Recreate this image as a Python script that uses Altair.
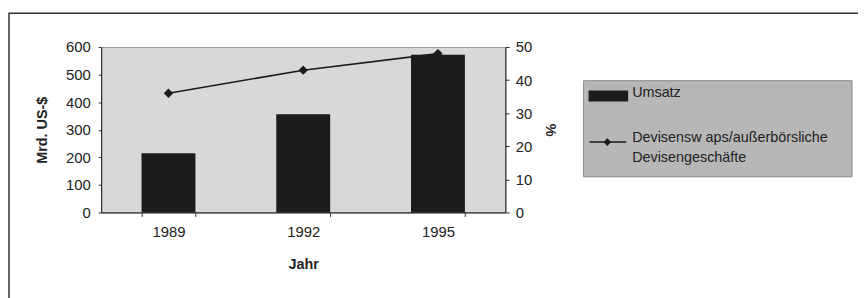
import altair as alt
import pandas as pd

# ---- data ----
years = ["1989", "1992", "1995"]
umsatz = [215, 356, 572]          # Mrd. US-$ (left axis)
swaps_pct = [36, 43, 48]          # % (right axis)
left_ticks = [0, 100, 200, 300, 400, 500, 600]
right_ticks = [0, 10, 20, 30, 40, 50]
legend_names = ["Umsatz", "Devisensw aps/außerbörsliche\nDevisengeschäfte"]

df = pd.DataFrame({"Jahr": years, "Umsatz": umsatz, "Prozent": swaps_pct})

FONT = "Liberation Sans"
W, H = 408, 167
DARK = "#1b1b1b"

x_enc = alt.X(
    "Jahr:N", sort=years, title="Jahr",
    scale=alt.Scale(paddingInner=0.6, paddingOuter=0.3),
    axis=alt.Axis(labelAngle=0, tickBand="extent", tickSize=4, labelPadding=8,
                  titlePadding=19),
)

bars = alt.Chart(df).mark_bar(color=DARK).encode(
    x=x_enc,
    y=alt.Y("Umsatz:Q", scale=alt.Scale(domain=[0, 600], nice=False),
            axis=alt.Axis(values=left_ticks, title="Mrd. US-$", orient="left",
                          grid=False, tickSize=3, labelPadding=8, titlePadding=16)),
)

line = alt.Chart(df).mark_line(
    color=DARK, strokeWidth=1.6,
    point=alt.OverlayMarkDef(shape="diamond", filled=True, size=90, color=DARK),
).encode(
    x=alt.X("Jahr:N", sort=years),
    y=alt.Y("Prozent:Q", scale=alt.Scale(domain=[0, 50], nice=False),
            axis=alt.Axis(values=right_ticks, title="%", orient="right",
                          grid=False, tickSize=4, labelPadding=6, titlePadding=11)),
)

one = pd.DataFrame({"k": [0]})

frame = alt.Chart(one).mark_rect(filled=False, stroke="#333333", strokeWidth=1.5).encode(
    x=alt.value(-93), x2=alt.value(800), y=alt.value(-34), y2=alt.value(320)
)

legend_box = alt.Chart(one).mark_rect(fill="#b7b7b7", stroke="#8a8a8a", strokeWidth=1).encode(
    x=alt.value(487), x2=alt.value(758), y=alt.value(34), y2=alt.value(131)
)
legend_swatch = alt.Chart(one).mark_rect(fill=DARK).encode(
    x=alt.value(492), x2=alt.value(532), y=alt.value(44), y2=alt.value(55)
)
legend_line = alt.Chart(one).mark_rule(color=DARK, strokeWidth=1.5).encode(
    x=alt.value(493), x2=alt.value(530), y=alt.value(96)
)
legend_diamond = alt.Chart(one).mark_point(shape="diamond", filled=True, size=60,
                                           color=DARK, opacity=1).encode(
    x=alt.value(511), y=alt.value(96)
)
leg_text1 = alt.Chart(pd.DataFrame({"label": [legend_names[0]]})).mark_text(
    align="left", baseline="middle", font=FONT, fontSize=14.5, color="#222"
).encode(text="label:N", x=alt.value(536), y=alt.value(46))
leg_text2 = alt.Chart(pd.DataFrame({"label": [legend_names[1]]})).mark_text(
    align="left", baseline="top", font=FONT, fontSize=14.5, color="#222",
    lineBreak="\n", lineHeight=20
).encode(text="label:N", x=alt.value(536), y=alt.value(85))

data_layer = alt.layer(bars, line).resolve_scale(y="independent")

chart = alt.layer(
    frame, data_layer, legend_box, legend_swatch, legend_line, legend_diamond,
    leg_text1, leg_text2,
).properties(
    width=W, height=H,
    autosize=alt.AutoSizeParams(type="none"),
    padding={"left": 94, "top": 38, "right": 356, "bottom": 85},
    background="white",
).configure_view(
    fill="#d8d8d8", stroke="#9a9a9a", strokeWidth=1
).configure_axis(
    domainColor="#333333", tickColor="#333333", labelColor="#222222",
    labelFont=FONT, labelFontSize=15, titleFont=FONT, titleFontSize=14.5,
    titleFontWeight="bold", titleColor="#222222", domainWidth=1.2,
)

chart.save("out.html", embed_options={"renderer": "svg", "actions": False})
